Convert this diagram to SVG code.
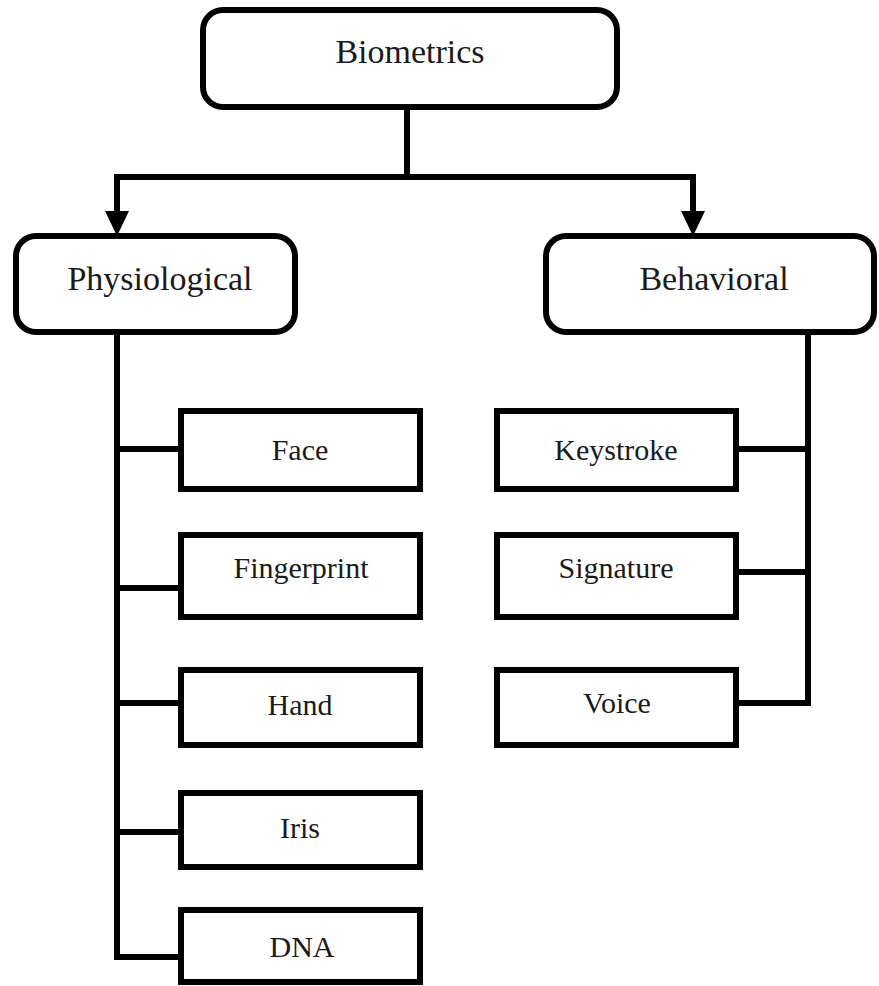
<svg xmlns="http://www.w3.org/2000/svg" width="879" height="986" viewBox="0 0 879 986">
<style>
.box{fill:#fff;stroke:#000;stroke-width:6}
.leaf{fill:#fff;stroke:#000;stroke-width:6}
.conn{fill:none;stroke:#000;stroke-width:6;stroke-linejoin:miter;stroke-linecap:square}
.t1{font-family:"Liberation Serif","Times New Roman",serif;font-size:34px;fill:#1a1a1a;text-anchor:middle}
.t2{font-family:"Liberation Serif","Times New Roman",serif;font-size:30px;fill:#1a1a1a;text-anchor:middle}
</style>
<rect width="879" height="986" fill="#fff"/>
<g id="connectors">
<path class="conn" d="M407,110 V177"/>
<path class="conn" d="M117,212 V177 H693 V212"/>
<polygon points="105,211 129,211 117,236" fill="#000"/>
<polygon points="681,211 705,211 693,236" fill="#000"/>
<path class="conn" d="M117,335 V957 H181"/>
<path class="conn" d="M117,449 H181"/>
<path class="conn" d="M117,588 H181"/>
<path class="conn" d="M117,703 H181"/>
<path class="conn" d="M117,832 H181"/>
<path class="conn" d="M808,335 V703 H739"/>
<path class="conn" d="M808,449 H739"/>
<path class="conn" d="M808,572 H739"/>
</g>
<g id="biometrics"><rect class="box" x="203" y="10" width="414" height="97" rx="20"/><text class="t1" x="410" y="63">Biometrics</text></g>
<g id="physiological"><rect class="box" x="16" y="236" width="279" height="96" rx="20"/><text class="t1" x="160" y="290">Physiological</text></g>
<g id="behavioral"><rect class="box" x="546" y="236" width="328" height="96" rx="20"/><text class="t1" x="714" y="290">Behavioral</text></g>
<g id="face"><rect class="leaf" x="181" y="411" width="239" height="78"/><text class="t2" x="300" y="460">Face</text></g>
<g id="fingerprint"><rect class="leaf" x="181" y="535" width="239" height="82"/><text class="t2" x="301" y="578">Fingerprint</text></g>
<g id="hand"><rect class="leaf" x="181" y="670" width="239" height="75"/><text class="t2" x="300" y="715">Hand</text></g>
<g id="iris"><rect class="leaf" x="181" y="793" width="239" height="74"/><text class="t2" x="300" y="838">Iris</text></g>
<g id="dna"><rect class="leaf" x="181" y="910" width="239" height="72"/><text class="t2" x="302" y="957">DNA</text></g>
<g id="keystroke"><rect class="leaf" x="497" y="411" width="239" height="78"/><text class="t2" x="616" y="460">Keystroke</text></g>
<g id="signature"><rect class="leaf" x="497" y="535" width="239" height="82"/><text class="t2" x="616" y="578">Signature</text></g>
<g id="voice"><rect class="leaf" x="497" y="670" width="239" height="75"/><text class="t2" x="617" y="713">Voice</text></g>
</svg>
